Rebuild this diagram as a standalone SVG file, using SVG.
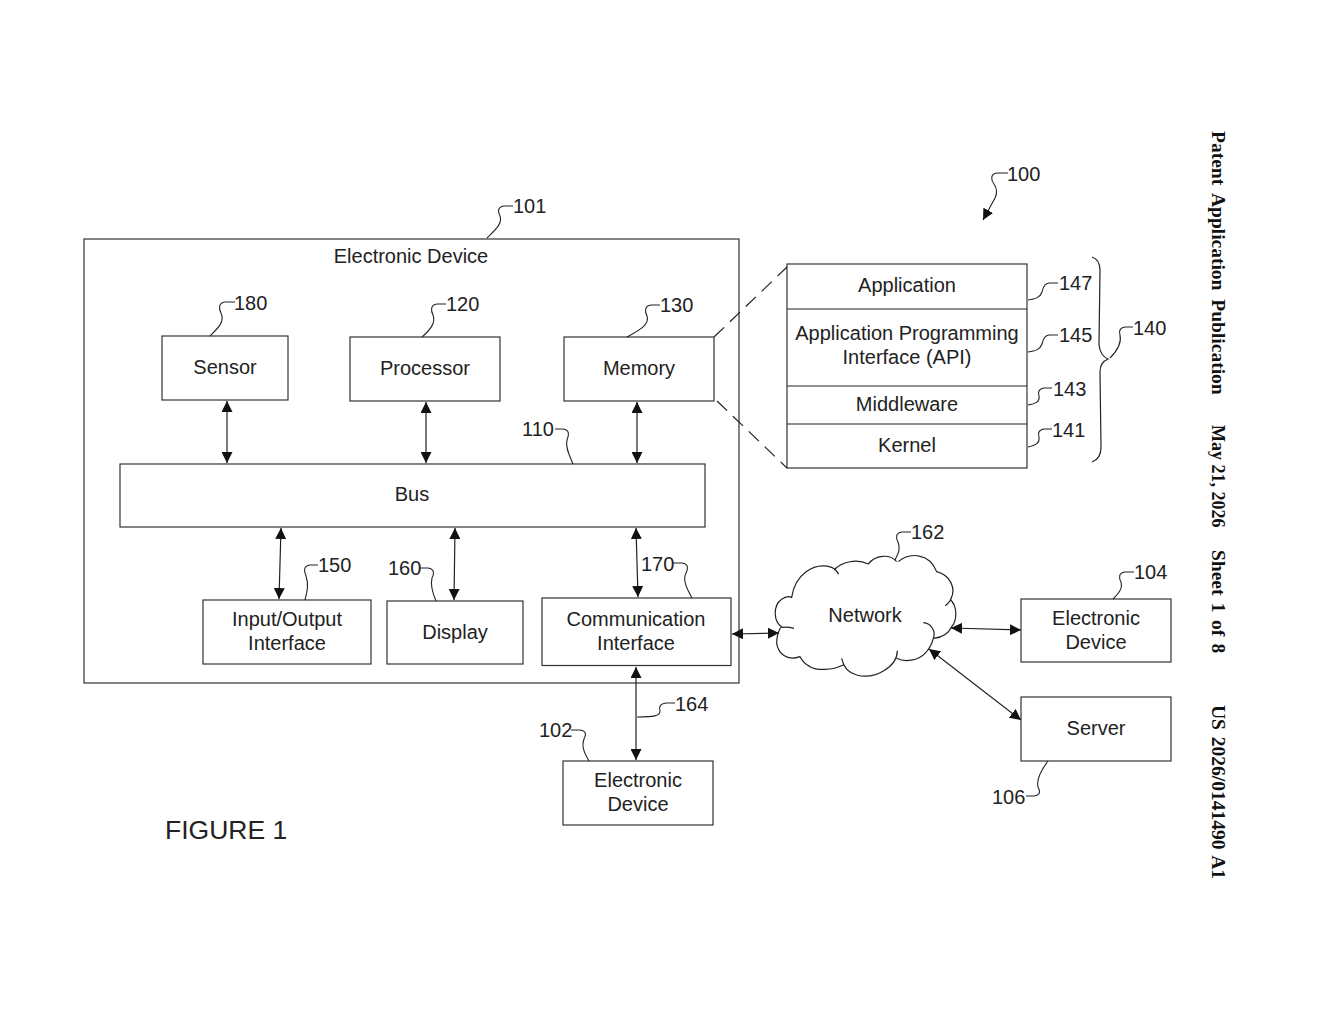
<svg xmlns="http://www.w3.org/2000/svg" width="1320" height="1024" viewBox="0 0 1320 1024">
<style>
text{font-family:"Liberation Sans",Arial,sans-serif;font-size:20px;fill:#222}
.m{text-anchor:middle}
.b{fill:#fff;stroke:#333;stroke-width:1.2}
.c{fill:none;stroke:#222;stroke-width:1.2}
.a{marker-start:url(#ah);marker-end:url(#ah)}
.l{fill:none;stroke:#222;stroke-width:1.1}
.s{font-family:"Liberation Serif","Times New Roman",serif;font-weight:bold;font-size:19.5px;fill:#111}
</style>
<defs>
<marker id="ah" viewBox="0 0 10 10" refX="10" refY="5" markerWidth="11" markerHeight="11" markerUnits="userSpaceOnUse" orient="auto-start-reverse" preserveAspectRatio="none"><path d="M0 0L10 5L0 10z" fill="#111"/></marker>
</defs>
<rect width="1320" height="1024" fill="#fff"/>
<g id="device-101"><rect class="b" x="84" y="239" width="655" height="444"/><text class="m" x="411" y="263">Electronic Device</text></g>
<g id="sensor"><rect class="b" x="162" y="336" width="126" height="64"/><text class="m" x="225" y="374">Sensor</text></g>
<g id="processor"><rect class="b" x="350" y="337" width="150" height="64"/><text class="m" x="425" y="375">Processor</text></g>
<g id="memory"><rect class="b" x="564" y="337" width="150" height="64"/><text class="m" x="639" y="375">Memory</text></g>
<g id="bus"><rect class="b" x="120" y="464" width="585" height="63"/><text class="m" x="412" y="501">Bus</text></g>
<g id="io"><rect class="b" x="203" y="600" width="168" height="64"/><text class="m" x="287" y="626">Input/Output</text><text class="m" x="287" y="650">Interface</text></g>
<g id="display"><rect class="b" x="387" y="601" width="136" height="63"/><text class="m" x="455" y="639">Display</text></g>
<g id="comm"><rect class="b" x="542" y="598" width="189" height="67.500"/><text class="m" x="636" y="626">Communication</text><text class="m" x="636" y="650">Interface</text></g>
<g id="stack">
<rect class="b" x="787" y="264" width="240" height="204"/>
<path class="c" d="M787 309H1027M787 386H1027M787 424H1027"/>
<text class="m" x="907" y="292">Application</text>
<text class="m" x="907" y="340">Application Programming</text>
<text class="m" x="907" y="364">Interface (API)</text>
<text class="m" x="907" y="411">Middleware</text>
<text class="m" x="907" y="452">Kernel</text>
</g>
<g id="network">
<path transform="translate(760 510) scale(.3333)" style="fill:none;stroke:#222;stroke-width:3.6" d="M102 355C88 351 76 351 66 352C40 335 38 287 65 268C75 260 85 258 95 262C105 195 160 155 215 172C225 176 232 185 236 193M222 180C245 155 290 145 325 162C345 135 390 130 410 155M415 155C450 125 510 130 530 185C570 195 590 235 572 268M575 262C572 272 565 280 556 287M570 268C595 290 590 335 575 350C565 372 545 382 522 385M490 338C515 340 528 365 520 385C515 405 505 420 495 430C475 452 435 458 410 445M412 422C412 470 345 510 290 495C265 488 250 470 245 445M250 465C215 482 170 482 150 470C135 462 125 450 120 440C80 455 55 430 50 400C50 380 55 365 62 352"/>
<text class="m" x="865" y="622">Network</text>
</g>
<g id="device-104"><rect class="b" x="1021" y="599" width="150" height="63"/><text class="m" x="1096" y="625">Electronic</text><text class="m" x="1096" y="649">Device</text></g>
<g id="server"><rect class="b" x="1021" y="697" width="150" height="64"/><text class="m" x="1096" y="735">Server</text></g>
<g id="device-102"><rect class="b" x="563" y="761" width="150" height="64"/><text class="m" x="638" y="787">Electronic</text><text class="m" x="638" y="811">Device</text></g>
<g id="connectors">
<path class="c a" d="M227 401V463"/>
<path class="c a" d="M426 402V463"/>
<path class="c a" d="M637 402V463"/>
<path class="c a" d="M281 528L279 599"/>
<path class="c a" d="M455 528L454 600"/>
<path class="c a" d="M636 528L638 597"/>
<path class="c a" d="M732 634L779 633"/>
<path class="c a" d="M636 667V760"/>
<path class="c a" d="M951 628L1021 630"/>
<path class="c a" d="M929 649L1021 720"/>
<path class="c" stroke-dasharray="14 8" d="M714 337L787 267"/>
<path class="c" stroke-dasharray="14 8" d="M717 401L787 468"/>
<path class="c" d="M1092 257C1098 259 1100 263 1100 270L1099 345C1100 353 1103 357 1108 359C1103 361 1100 365 1100 372L1101 447C1101 456 1098 460 1092 462"/>
<path class="l" marker-end="url(#ah)" d="M1008 173L997 173C990 174 991 180 994 184C998 190 997 194 995 198L983 220"/>
<path class="l" d="M513 206L504 206C497 207 498 212 500 216C503 224 494 231 487 238"/>
<path class="l" d="M235 302L225 302C218 303 219 309 221 313C225 322 218 328 210 336"/>
<path class="l" d="M446 304L437 304C430 305 431 311 433 315C436 323 430 330 422 337"/>
<path class="l" d="M660 305L651 305C644 306 645 312 647 316C650 325 638 331 627 337"/>
<path class="l" d="M555 429L563 429C570 430 569 435 567 440C565 448 570 456 573 464"/>
<path class="l" d="M318 565L310 565C303 566 304 571 306 576C309 584 307 592 305 600"/>
<path class="l" d="M420 568L428 568C435 569 434 574 432 578C430 586 433 594 436 601"/>
<path class="l" d="M673 563L682 563C689 564 688 569 686 573C682 581 688 590 692 598"/>
<path class="l" d="M911 532L902 532C895 533 896 538 898 542C901 549 898 554 895 560"/>
<path class="l" d="M1134 572L1125 572C1118 573 1119 578 1121 582C1123 589 1118 594 1113 599"/>
<path class="l" d="M675 703L666 703C659 704 659 708 660 711C660 716 654 717 637 717"/>
<path class="l" d="M571 730L580 730C587 731 586 735 584 739C581 747 585 754 589 761"/>
<path class="l" d="M1026 796L1034 796C1041 795 1040 791 1038 787C1036 779 1042 769 1048 761"/>
<path class="l" d="M1058 283L1049 283C1043 284 1043 289 1042 292C1040 298 1035 299 1028 300"/>
<path class="l" d="M1058 335L1049 335C1043 336 1043 341 1042 344C1040 350 1035 351 1028 352"/>
<path class="l" d="M1052 388L1044 388C1038 389 1038 393 1039 396C1040 402 1035 404 1028 405"/>
<path class="l" d="M1052 429L1044 429C1038 430 1038 434 1039 437C1040 443 1035 446 1028 447"/>
<path class="l" d="M1133 327L1125 327C1119 328 1119 332 1120 335C1122 344 1116 352 1110 358"/>
</g>
<g id="refs">
<text x="1007" y="181">100</text><text x="513" y="213">101</text><text x="234" y="310">180</text><text x="446" y="311">120</text><text x="660" y="312">130</text><text x="522" y="436">110</text><text x="318" y="572">150</text><text x="388" y="575">160</text><text x="641" y="571">170</text><text x="911" y="539">162</text><text x="1134" y="579">104</text><text x="675" y="711">164</text><text x="539" y="737">102</text><text x="992" y="804">106</text><text x="1059" y="290">147</text><text x="1059" y="342">145</text><text x="1053" y="396">143</text><text x="1052" y="437">141</text><text x="1133" y="335">140</text>
</g>
<text x="165" y="839" style="font-size:26.5px">FIGURE 1</text>
<g id="header">
<text class="s" transform="translate(1212 131) rotate(90)" word-spacing="4">Patent Application Publication</text>
<text class="s" transform="translate(1212 425) rotate(90)" style="font-size:18px">May 21, 2026</text>
<text class="s" transform="translate(1212 550) rotate(90)" word-spacing="2.5">Sheet 1 of 8</text>
<text class="s" transform="translate(1212 705) rotate(90)" word-spacing="2">US 2026/0141490 A1</text>
</g>
</svg>
